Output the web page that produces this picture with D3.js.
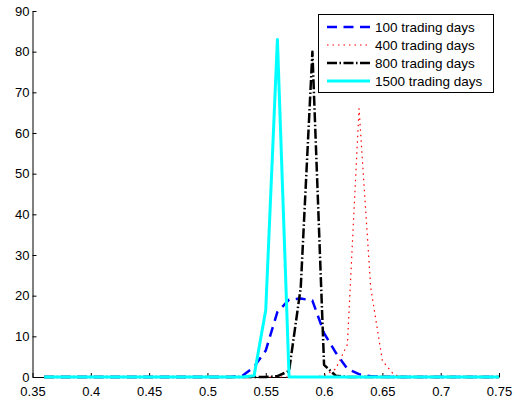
<!DOCTYPE html>
<html>
<head>
<meta charset="utf-8">
<script src="https://cdn.jsdelivr.net/npm/d3@7"></script>
<style>
    body { margin: 0; background: #fff; }
    svg { display: block; font-family: Arial, "Liberation Sans", sans-serif; }
    .axis path, .axis line { stroke: #000; }
    .axis text { fill: #000; font-size: 13px; }
</style>
</head>
<body>
<svg id="chart"></svg>
<script>
// sample points (x axis)
const returns = [0.36, 0.37, 0.38, 0.39, 0.40, 0.41, 0.42, 0.43, 0.44, 0.45,
    0.46, 0.47, 0.48, 0.49, 0.50, 0.51, 0.52, 0.53, 0.54, 0.55,
    0.56, 0.57, 0.58, 0.59, 0.60, 0.61, 0.62, 0.63, 0.64, 0.65,
    0.66, 0.67, 0.68, 0.69, 0.70, 0.71, 0.72, 0.73, 0.74, 0.75];

const days100 = [0, 0, 0, 0, 0, 0, 0, 0, 0, 0,
    0, 0, 0, 0, 0, 0, 0, 0.3, 2.5, 6.5,
    16, 19, 19.3, 18.8, 10.8, 6, 2, 0.7, 0.2, 0.05,
    0, 0, 0, 0, 0, 0, 0, 0, 0, 0];

const days400 = [0, 0, 0, 0, 0, 0, 0, 0, 0, 0,
    0, 0, 0, 0, 0, 0, 0, 0, 0, 0,
    0, 0, 0, 0, 0.3, 2, 8, 66, 22, 4,
    0.5, 0, 0, 0, 0, 0, 0, 0, 0, 0];

const days800 = [0, 0, 0, 0, 0, 0, 0, 0, 0, 0,
    0, 0, 0, 0, 0, 0, 0, 0, 0, 0,
    0.2, 1.5, 22, 80, 3, 0.3, 0, 0, 0, 0,
    0, 0, 0, 0, 0, 0, 0, 0, 0, 0];

const days1500 = [0, 0, 0, 0, 0, 0, 0, 0, 0, 0,
    0, 0, 0, 0, 0, 0, 0, 0, 0.3, 16.5,
    83, 0, 0, 0, 0, 0, 0, 0, 0, 0,
    0, 0, 0, 0, 0, 0, 0, 0, 0, 0];

const seriesNames = ['100 trading days', '400 trading days', '800 trading days', '1500 trading days'];
const xTicks = [0.35, 0.4, 0.45, 0.5, 0.55, 0.6, 0.65, 0.7, 0.75];
const yTicks = [0, 10, 20, 30, 40, 50, 60, 70, 80, 90];

const width = 515, height = 405;
const margin = {left: 32.5, right: 16, top: 11, bottom: 28};

const series = [
    {name: seriesNames[0], values: days100, color: '#0000ff', width: 2.5, dash: '10,6.5'},
    {name: seriesNames[1], values: days400, color: '#ff0000', width: 1.2, dash: '1.5,4'},
    {name: seriesNames[2], values: days800, color: '#000000', width: 2.5, dash: '10,2.5,1.5,2.5'},
    {name: seriesNames[3], values: days1500, color: '#00ffff', width: 3, dash: null}
];

const svg = d3.select('#chart')
    .attr('width', width)
    .attr('height', height);

const x = d3.scaleLinear()
    .domain([0.35, 0.75])
    .range([margin.left, width - margin.right]);

const y = d3.scaleLinear()
    .domain([0, 90])
    .range([height - margin.bottom, margin.top]);

const fmt = d => String(+d.toFixed(2));

svg.append('g')
    .attr('class', 'axis axis--x')
    .attr('transform', `translate(0,${y(0)})`)
    .call(d3.axisBottom(x).tickValues(xTicks).tickFormat(fmt)
        .tickSizeInner(-4).tickSizeOuter(0).tickPadding(10));

svg.append('g')
    .attr('class', 'axis axis--y')
    .attr('transform', `translate(${margin.left},0)`)
    .call(d3.axisLeft(y).tickValues(yTicks).tickFormat(fmt)
        .tickSizeInner(-4).tickSizeOuter(0).tickPadding(3));

const line = d3.line()
    .x((d, i) => x(returns[i]))
    .y(d => y(d));

svg.append('g')
    .selectAll('path.series')
    .data(series)
    .join('path')
    .classed('series', true)
    .attr('fill', 'none')
    .attr('stroke', s => s.color)
    .attr('stroke-width', s => s.width)
    .attr('stroke-dasharray', s => s.dash)
    .attr('stroke-linejoin', 'round')
    .attr('d', s => line(s.values));

// legend
const legend = svg.append('g')
    .attr('transform', 'translate(318.5,14.5)');

legend.append('rect')
    .attr('width', 175)
    .attr('height', 78)
    .attr('fill', '#fff')
    .attr('stroke', '#000');

const rows = legend.selectAll('g.row')
    .data(series)
    .join('g')
    .classed('row', true)
    .attr('transform', (s, i) => `translate(0,${12.5 + i * 18})`);

rows.append('line')
    .attr('x1', 8.5)
    .attr('x2', 51.5)
    .attr('stroke', s => s.color)
    .attr('stroke-width', s => s.width)
    .attr('stroke-dasharray', s => s.dash);

rows.append('text')
    .attr('x', 56.5)
    .attr('dy', '0.35em')
    .attr('font-size', '13.5px')
    .text(s => s.name);
</script>
</body>
</html>
